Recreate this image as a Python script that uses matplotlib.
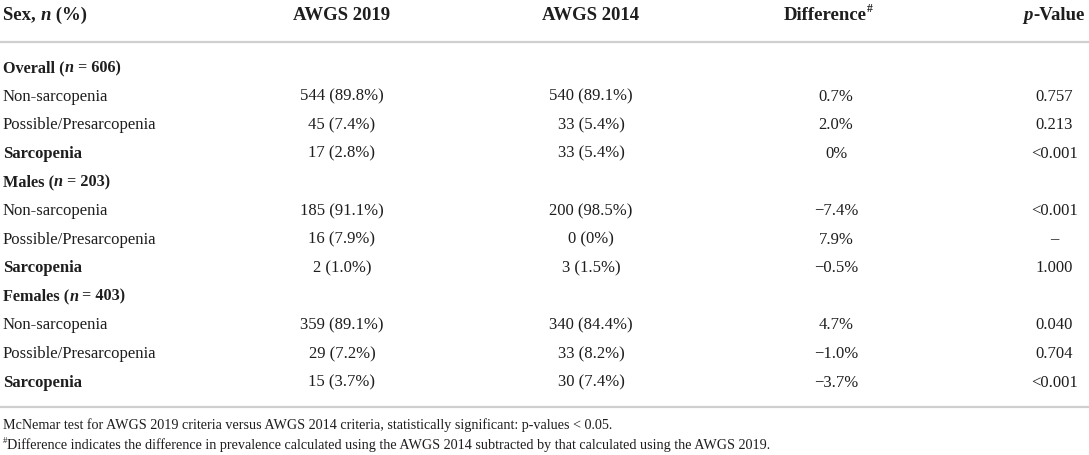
import matplotlib

matplotlib.use('Agg')
import matplotlib.pyplot as plt

# table content
groups = ["Overall", "Males", "Females"]
group_n = [606, 203, 403]
categories = ["Non-sarcopenia", "Possible/Presarcopenia", "Sarcopenia"]
awgs2019_n = [544, 45, 17, 185, 16, 2, 359, 29, 15]
awgs2019_pct = [89.8, 7.4, 2.8, 91.1, 7.9, 1.0, 89.1, 7.2, 3.7]
awgs2014_n = [540, 33, 33, 200, 0, 3, 340, 33, 30]
awgs2014_pct = [89.1, 5.4, 5.4, 98.5, 0, 1.5, 84.4, 8.2, 7.4]
difference = ["0.7%", "2.0%", "0%", "\u22127.4%", "7.9%", "\u22120.5%",
              "4.7%", "\u22121.0%", "\u22123.7%"]
p_values = ["0.757", "0.213", "<0.001", "<0.001", "\u2013", "1.000",
            "0.040", "0.704", "<0.001"]
footnote1 = ("McNemar test for AWGS 2019 criteria versus AWGS 2014 criteria, "
             "statistically significant: p-values < 0.05.")
footnote2 = ("Difference indicates the difference in prevalence calculated using "
             "the AWGS 2014 subtracted by that calculated using the AWGS 2019.")

W, H = 1089, 455
FONT = "Liberation Serif"
FS = 12.0
FS_HEAD = 13.5
FS_GROUP = 11.7
FS_NOTE = 10.2
COL = "#1e1e1e"
LINE = "#cfcfcf"

fig = plt.figure(figsize=(W / 100, H / 100), dpi=100)
ax = fig.add_axes([0, 0, 1, 1])
ax.set_xlim(0, W)
ax.set_ylim(H, 0)
ax.axis('off')
renderer = fig.canvas.get_renderer()


def runs(x, y, parts, ha='left', size=FS):
    # parts: list of (text, weight, style, raise)
    objs = []
    for s, w, st, up in parts:
        fs = size * 0.62 if up else size
        t = ax.text(0, y - up, s, fontsize=fs, fontweight=w, fontstyle=st,
                    family=FONT, color=COL, va='center', ha='left')
        objs.append(t)
    widths = [t.get_window_extent(renderer).width for t in objs]
    total = sum(widths)
    if ha == 'center':
        x0 = x - total / 2
    elif ha == 'right':
        x0 = x - total
    else:
        x0 = x
    for t, w in zip(objs, widths):
        t.set_x(x0)
        x0 += w


def fmt(n, p):
    return f"{n} (0%)" if p == 0 else f"{n} ({p:.1f}%)"


col_x = [342, 591, 836, 1054]
left = 3
y_head = 15
y_first = 68
step = 28.6

# header
runs(left, y_head, [("Sex, ", 'bold', 'normal', 0), ("n", 'bold', 'italic', 0),
                    (" (%)", 'bold', 'normal', 0)], size=FS_HEAD)
runs(col_x[0], y_head, [("AWGS 2019", 'bold', 'normal', 0)], ha='center', size=FS_HEAD)
runs(col_x[1], y_head, [("AWGS 2014", 'bold', 'normal', 0)], ha='center', size=FS_HEAD)
runs(col_x[2] - 8, y_head, [("Difference", 'bold', 'normal', 0),
                            ("#", 'bold', 'normal', 6)], ha='center', size=FS_HEAD)
runs(col_x[3], y_head, [("p", 'bold', 'italic', 0), ("-Value", 'bold', 'normal', 0)],
     ha='center', size=FS_HEAD)

ax.plot([0, W], [42, 42], color=LINE, lw=1.6, solid_capstyle='butt')

row = 0
for g, (name, n) in enumerate(zip(groups, group_n)):
    y = y_first + row * step
    runs(left, y, [(name + " (", 'bold', 'normal', 0), ("n", 'bold', 'italic', 0),
                   (f" = {n})", 'bold', 'normal', 0)], size=FS_GROUP)
    row += 1
    for c, cat in enumerate(categories):
        i = g * 3 + c
        y = y_first + row * step
        w = 'bold' if cat == "Sarcopenia" else 'normal'
        runs(left, y, [(cat, w, 'normal', 0)])
        runs(col_x[0], y, [(fmt(awgs2019_n[i], awgs2019_pct[i]), 'normal', 'normal', 0)],
             ha='center')
        runs(col_x[1], y, [(fmt(awgs2014_n[i], awgs2014_pct[i]), 'normal', 'normal', 0)],
             ha='center')
        runs(col_x[2], y, [(difference[i], 'normal', 'normal', 0)], ha='center')
        runs(col_x[3], y, [(p_values[i], 'normal', 'normal', 0)], ha='center')
        row += 1

ax.plot([0, W], [407, 407], color=LINE, lw=1.6, solid_capstyle='butt')

runs(left, 425, [(footnote1, 'normal', 'normal', 0)], size=FS_NOTE)
runs(left, 445, [("#", 'normal', 'normal', 4), (footnote2, 'normal', 'normal', 0)],
     size=FS_NOTE)

fig.savefig('out.png', dpi=100, facecolor='white')
